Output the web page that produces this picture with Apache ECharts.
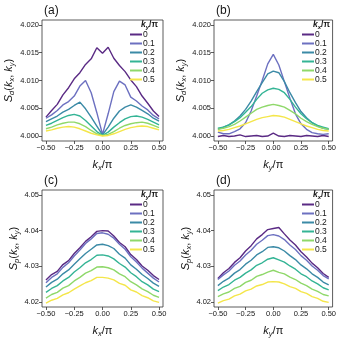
<!DOCTYPE html>
<html>
<head>
<meta charset="utf-8">
<script src="https://cdn.jsdelivr.net/npm/echarts@6/dist/echarts.min.js"></script>
<style>
html, body { margin: 0; padding: 0; background: #fff; }
#main { width: 339px; height: 339px; }
</style>
</head>
<body>
<div id="main"></div>
<script>
// momentum grid (units of pi), shared by all curves
const kGrid = [-0.5, -0.45, -0.4, -0.35, -0.3, -0.25, -0.2, -0.15, -0.1, -0.05, 0,
               0.05, 0.1, 0.15, 0.2, 0.25, 0.3, 0.35, 0.4, 0.45, 0.5];
const curveNames = ['0', '0.1', '0.2', '0.3', '0.4', '0.5'];
const curveColors = ['#5a2a84', '#6c70c0', '#3b8aa6', '#34b495', '#8fd86a', '#f4e64a'];

const xTicks = [-0.5, -0.25, 0, 0.25, 0.5];
const sdTicks = [4.000, 4.005, 4.010, 4.015, 4.020];
const spTicks = [4.02, 4.03, 4.04, 4.05];

// (a) S_d vs kx, one curve per ky
const sdKx_ky0  = [4.0034, 4.0046, 4.0057, 4.0074, 4.0087, 4.0103, 4.0114, 4.0129, 4.0139, 4.0159, 4.0149,
                   4.0160, 4.0140, 4.0127, 4.0116, 4.0101, 4.0089, 4.0072, 4.0059, 4.0045, 4.0035];
const sdKx_ky01 = [4.0032, 4.0038, 4.0046, 4.0056, 4.0062, 4.0072, 4.0090, 4.0100, 4.0078, 4.0042, 4.0003,
                   4.0040, 4.0080, 4.0099, 4.0092, 4.0070, 4.0063, 4.0054, 4.0047, 4.0037, 4.0031];
const sdKx_ky02 = [4.0026, 4.0031, 4.0036, 4.0043, 4.0048, 4.0055, 4.0061, 4.0049, 4.0034, 4.0018, 4.0002,
                   4.0016, 4.0032, 4.0045, 4.0052, 4.0056, 4.0052, 4.0046, 4.0040, 4.0032, 4.0027];
const sdKx_ky03 = [4.0019, 4.0023, 4.0028, 4.0033, 4.0037, 4.0039, 4.0036, 4.0028, 4.0018, 4.0008, 4.0001,
                   4.0007, 4.0016, 4.0024, 4.0031, 4.0035, 4.0036, 4.0034, 4.0030, 4.0025, 4.0020];
const sdKx_ky04 = [4.0013, 4.0016, 4.0020, 4.0023, 4.0025, 4.0025, 4.0022, 4.0017, 4.0010, 4.0004, 4.0001,
                   4.0003, 4.0008, 4.0014, 4.0019, 4.0022, 4.0024, 4.0025, 4.0023, 4.0019, 4.0015];
const sdKx_ky05 = [4.0009, 4.0011, 4.0014, 4.0016, 4.0017, 4.0016, 4.0013, 4.0009, 4.0005, 4.0002, 4.0000,
                   4.0001, 4.0004, 4.0008, 4.0012, 4.0015, 4.0017, 4.0018, 4.0017, 4.0014, 4.0011];

// (b) S_d vs ky, one curve per kx
const sdKy_kx0  = [3.9999, 4.0001, 3.9999, 4.0000, 4.0002, 3.9999, 4.0000, 4.0001, 3.9999, 4.0000, 4.0005,
                   4.0000, 3.9999, 4.0001, 4.0000, 3.9999, 4.0001, 4.0000, 3.9999, 4.0001, 3.9999];
const sdKy_kx01 = [4.0007, 4.0004, 4.0004, 4.0008, 4.0013, 4.0024, 4.0045, 4.0072, 4.0100, 4.0130, 4.0147,
                   4.0128, 4.0098, 4.0068, 4.0040, 4.0022, 4.0012, 4.0006, 4.0004, 4.0003, 4.0004];
const sdKy_kx02 = [4.0012, 4.0016, 4.0020, 4.0027, 4.0036, 4.0048, 4.0063, 4.0080, 4.0096, 4.0112, 4.0117,
                   4.0114, 4.0098, 4.0078, 4.0060, 4.0044, 4.0033, 4.0024, 4.0018, 4.0014, 4.0012];
const sdKy_kx03 = [4.0014, 4.0016, 4.0020, 4.0026, 4.0033, 4.0043, 4.0053, 4.0066, 4.0077, 4.0083, 4.0086,
                   4.0084, 4.0078, 4.0066, 4.0052, 4.0040, 4.0031, 4.0024, 4.0019, 4.0016, 4.0013];
const sdKy_kx04 = [4.0012, 4.0014, 4.0017, 4.0021, 4.0027, 4.0034, 4.0041, 4.0048, 4.0052, 4.0055, 4.0057,
                   4.0055, 4.0052, 4.0046, 4.0040, 4.0032, 4.0026, 4.0021, 4.0017, 4.0014, 4.0012];
const sdKy_kx05 = [4.0009, 4.0010, 4.0012, 4.0015, 4.0018, 4.0022, 4.0026, 4.0030, 4.0033, 4.0035, 4.0037,
                   4.0036, 4.0034, 4.0030, 4.0026, 4.0022, 4.0018, 4.0015, 4.0012, 4.0010, 4.0009];

// (c) S_p vs kx, one curve per ky
const spKx_ky0  = [4.0262, 4.0277, 4.0286, 4.0305, 4.0316, 4.0336, 4.0352, 4.0370, 4.0383, 4.0398, 4.0400,
                   4.0399, 4.0385, 4.0367, 4.0355, 4.0333, 4.0319, 4.0301, 4.0289, 4.0274, 4.0263];
const spKx_ky01 = [4.0254, 4.0269, 4.0279, 4.0297, 4.0310, 4.0329, 4.0346, 4.0364, 4.0377, 4.0392, 4.0394,
                   4.0390, 4.0379, 4.0362, 4.0348, 4.0327, 4.0312, 4.0295, 4.0281, 4.0267, 4.0256];
const spKx_ky02 = [4.0242, 4.0255, 4.0264, 4.0279, 4.0290, 4.0306, 4.0321, 4.0336, 4.0348, 4.0360, 4.0362,
                   4.0358, 4.0350, 4.0334, 4.0323, 4.0304, 4.0292, 4.0277, 4.0266, 4.0253, 4.0244];
const spKx_ky03 = [4.0227, 4.0238, 4.0246, 4.0259, 4.0269, 4.0284, 4.0296, 4.0310, 4.0319, 4.0331, 4.0332,
                   4.0329, 4.0321, 4.0308, 4.0298, 4.0282, 4.0271, 4.0257, 4.0248, 4.0236, 4.0229];
const spKx_ky04 = [4.0211, 4.0221, 4.0227, 4.0239, 4.0246, 4.0259, 4.0269, 4.0281, 4.0288, 4.0298, 4.0299,
                   4.0296, 4.0290, 4.0279, 4.0271, 4.0257, 4.0248, 4.0237, 4.0229, 4.0219, 4.0213];
const spKx_ky05 = [4.0197, 4.0205, 4.0210, 4.0220, 4.0226, 4.0236, 4.0245, 4.0254, 4.0260, 4.0269, 4.0269,
                   4.0267, 4.0262, 4.0252, 4.0247, 4.0234, 4.0228, 4.0218, 4.0212, 4.0203, 4.0199];

// (d) S_p vs ky, one curve per kx
const spKy_kx0  = [4.0266, 4.0282, 4.0294, 4.0311, 4.0324, 4.0343, 4.0358, 4.0377, 4.0389, 4.0403, 4.0406,
                   4.0409, 4.0391, 4.0374, 4.0360, 4.0341, 4.0326, 4.0309, 4.0296, 4.0280, 4.0269];
const spKy_kx01 = [4.0263, 4.0276, 4.0287, 4.0303, 4.0315, 4.0332, 4.0345, 4.0362, 4.0373, 4.0386, 4.0389,
                   4.0385, 4.0375, 4.0360, 4.0347, 4.0330, 4.0317, 4.0301, 4.0289, 4.0274, 4.0265];
const spKy_kx02 = [4.0246, 4.0258, 4.0267, 4.0281, 4.0291, 4.0306, 4.0317, 4.0332, 4.0341, 4.0353, 4.0355,
                   4.0352, 4.0343, 4.0330, 4.0319, 4.0304, 4.0293, 4.0279, 4.0269, 4.0256, 4.0248];
const spKy_kx03 = [4.0232, 4.0242, 4.0249, 4.0261, 4.0269, 4.0281, 4.0290, 4.0303, 4.0310, 4.0320, 4.0324,
                   4.0318, 4.0312, 4.0301, 4.0292, 4.0279, 4.0271, 4.0259, 4.0251, 4.0240, 4.0234];
const spKy_kx04 = [4.0215, 4.0223, 4.0228, 4.0238, 4.0244, 4.0255, 4.0261, 4.0272, 4.0277, 4.0284, 4.0289,
                   4.0283, 4.0279, 4.0270, 4.0263, 4.0253, 4.0246, 4.0236, 4.0230, 4.0221, 4.0217];
const spKy_kx05 = [4.0197, 4.0204, 4.0208, 4.0217, 4.0222, 4.0231, 4.0236, 4.0245, 4.0249, 4.0256, 4.0257,
                   4.0256, 4.0251, 4.0243, 4.0238, 4.0229, 4.0224, 4.0215, 4.0210, 4.0202, 4.0199];

const panels = [
  { tag: '(a)', curves: [sdKx_ky0, sdKx_ky01, sdKx_ky02, sdKx_ky03, sdKx_ky04, sdKx_ky05],
    yLetter: 'd', xVar: 'x', legVar: 'y', yTicks: sdTicks, yMin: 3.9991, yMax: 4.0209, dec: 3,
    left: 42, top: 20, width: 121, height: 121 },
  { tag: '(b)', curves: [sdKy_kx0, sdKy_kx01, sdKy_kx02, sdKy_kx03, sdKy_kx04, sdKy_kx05],
    yLetter: 'd', xVar: 'y', legVar: 'x', yTicks: sdTicks, yMin: 3.9991, yMax: 4.0209, dec: 3,
    left: 214, top: 20, width: 121, height: 121 },
  { tag: '(c)', curves: [spKx_ky0, spKx_ky01, spKx_ky02, spKx_ky03, spKx_ky04, spKx_ky05],
    yLetter: 'p', xVar: 'x', legVar: 'y', yTicks: spTicks, yMin: 4.0186, yMax: 4.0514, dec: 2,
    left: 42, top: 190, width: 121, height: 118 },
  { tag: '(d)', curves: [spKy_kx0, spKy_kx01, spKy_kx02, spKy_kx03, spKy_kx04, spKy_kx05],
    yLetter: 'p', xVar: 'y', legVar: 'x', yTicks: spTicks, yMin: 4.0186, yMax: 4.0514, dec: 2,
    left: 214, top: 190, width: 121, height: 118 }
];

const FONT = 'Liberation Sans, Arial, sans-serif';
const INK = '#151515';
const richMath = {
  i:   { fontFamily: FONT, fontStyle: 'italic', fontSize: 11, lineHeight: 14, color: INK },
  n:   { fontFamily: FONT, fontSize: 11, lineHeight: 14, color: INK },
  sub: { fontFamily: FONT, fontStyle: 'italic', fontSize: 7.5, lineHeight: 9, verticalAlign: 'bottom', color: INK }
};
const richSmall = {
  i:   { fontFamily: FONT, fontStyle: 'italic', fontSize: 8.5, lineHeight: 10, color: INK },
  n:   { fontFamily: FONT, fontSize: 8.5, lineHeight: 10, color: INK },
  sub: { fontFamily: FONT, fontStyle: 'italic', fontSize: 6, lineHeight: 6, verticalAlign: 'bottom', color: INK }
};

const fmtMinus = (v, d) => v.toFixed(d).replace('-', '\u2212');

const grid = [], xAxis = [], yAxis = [], series = [], legend = [], title = [];
panels.forEach((p, gi) => {
  grid.push({ left: p.left, top: p.top, width: p.width, height: p.height,
              show: true, borderColor: '#333', borderWidth: 0.8, backgroundColor: 'transparent' });
  xAxis.push({
    type: 'value', gridIndex: gi, min: -0.535, max: 0.535,
    name: '{i|k}{sub|' + p.xVar + '}{n|/π}', nameLocation: 'middle', nameGap: 17,
    nameTextStyle: { rich: richMath },
    axisLine: { show: false, onZero: false }, splitLine: { show: false },
    axisTick: { show: true, length: 3, customValues: xTicks, lineStyle: { color: '#333', width: 0.8 } },
    axisLabel: { customValues: xTicks, fontSize: 7.5, color: INK, fontFamily: FONT, margin: 3,
                 formatter: v => fmtMinus(v, 2) }
  });
  yAxis.push({
    type: 'value', gridIndex: gi, min: p.yMin, max: p.yMax,
    name: '{i|S}{sub|' + p.yLetter + '}{n|(}{i|k}{sub|x}{n|, }{i|k}{sub|y}{n|)}',
    nameLocation: 'middle', nameGap: 21, nameRotate: 90,
    nameTextStyle: { rich: richMath },
    axisLine: { show: false, onZero: false }, splitLine: { show: false },
    axisTick: { show: true, length: 3, customValues: p.yTicks, lineStyle: { color: '#333', width: 0.8 } },
    axisLabel: { customValues: p.yTicks, fontSize: 7.5, color: INK, fontFamily: FONT, margin: 3,
                 formatter: v => v.toFixed(p.dec) }
  });
  p.curves.forEach((vals, ci) => {
    series.push({
      name: curveNames[ci], type: 'line', xAxisIndex: gi, yAxisIndex: gi,
      data: kGrid.map((k, j) => [k, vals[j]]),
      symbol: 'none', silent: true, animation: false,
      lineStyle: { color: curveColors[ci], width: 1.4 },
      itemStyle: { color: curveColors[ci] }
    });
  });
  legend.push({
    data: curveNames, orient: 'vertical', left: p.left + 88, top: p.top + 10,
    padding: 0, icon: 'rect', itemWidth: 12, itemHeight: 2, itemGap: 0, selectedMode: false,
    textStyle: { fontSize: 8.5, lineHeight: 8.6, color: INK, fontFamily: FONT, padding: [0, 0, 0, -4] }
  });
  title.push({
    text: p.tag, left: p.left - 3, top: p.top - 20,
    textStyle: { fontSize: 12, fontWeight: 'normal', color: INK, fontFamily: FONT }
  });
  title.push({
    text: '{i|k}{sub|' + p.legVar + '}{n|/π}', left: p.left + 99, top: p.top + 0, padding: 0,
    textStyle: { rich: richSmall }
  });
});

const chart = echarts.init(document.getElementById('main'), null, { renderer: 'canvas' });
chart.setOption({
  backgroundColor: '#fff',
  animation: false,
  color: curveColors,
  grid, xAxis, yAxis, series, legend, title
});
</script>
</body>
</html>
